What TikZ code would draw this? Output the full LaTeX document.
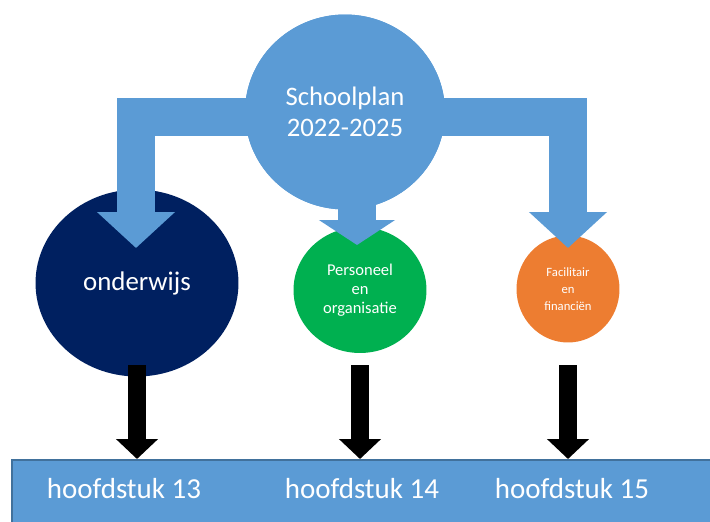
\documentclass[tikz,border=0pt]{standalone}
\usepackage{fontspec}
\setmainfont{Carlito}
\usetikzlibrary{shapes.geometric,arrows.meta}
\definecolor{planblue}{RGB}{91,155,213}
\definecolor{barline}{RGB}{65,113,156}
\definecolor{navy}{RGB}{0,32,96}
\definecolor{groen}{RGB}{0,176,80}
\definecolor{oranje}{RGB}{237,125,49}

\begin{document}
\begin{tikzpicture}[x=0.02cm,y=-0.02cm,
  bol/.style={ellipse,inner sep=0pt,text=white,align=center},
  blokpijl/.style={draw=planblue,line width=0.76cm,line join=miter,-{Triangle[width=1.52cm,length=0.72cm]}},
  zwartepijl/.style={draw=black,line width=0.36cm,-{Triangle[width=0.82cm,length=0.4cm]}},
  kop/.style={text=white,font=\fontsize{16.5}{20}\selectfont}]
\useasboundingbox (0,0) rectangle (710,521);
\node [draw=barline,line width=1pt,fill=planblue,anchor=north west,minimum width=14.4cm,minimum height=1.4cm] (bar) at (11,459) {};
\node [kop] (h13) at (124,489) {hoofdstuk 13};
\node [kop] (h14) at (362,489) {hoofdstuk 14};
\node [kop] (h15) at (572,489) {hoofdstuk 15};
\node [bol,fill=navy,minimum width=4.06cm,minimum height=3.74cm,font=\fontsize{15.3}{18}\selectfont] (onderwijs) at (137,283) {onderwijs};
\node [bol,fill=groen,minimum width=2.66cm,minimum height=2.52cm,font=\fontsize{9.4}{10.8}\selectfont] (personeel) at (360,290) {Personeel\\en\\organisatie};
\node [bol,fill=oranje,minimum width=2.06cm,minimum height=2.14cm,font=\fontsize{7.2}{9.6}\selectfont] (facilitair) at (568,289) {Facilitair\\en\\financiën};
\coordinate (tipO) at (136,248);
\coordinate (tipP) at (357,245);
\coordinate (tipF) at (568,248);
\draw [zwartepijl] (onderwijs.center |- 0,365) -- (onderwijs.center |- bar.north);
\draw [zwartepijl] (personeel.center |- 0,365) -- (personeel.center |- bar.north);
\draw [zwartepijl] (facilitair.center |- 0,365) -- (facilitair.center |- bar.north);
\node [bol,fill=planblue,minimum width=4cm,minimum height=3.9cm] (plan) at (345,112) {};
\draw [blokpijl] ([yshift=-0.1cm]plan.center) -| (tipO);
\draw [blokpijl] ([yshift=-0.1cm]plan.center) -| (tipF);
\draw [blokpijl,-{Triangle[width=1.5cm,length=0.5cm]}] (plan.center -| tipP) -- (tipP);
\node [bol,fill=planblue,minimum width=4cm,minimum height=3.9cm,font=\fontsize{15.2}{18}\selectfont] at (345,112) {Schoolplan\\2022-2025};
\end{tikzpicture}
\end{document}
